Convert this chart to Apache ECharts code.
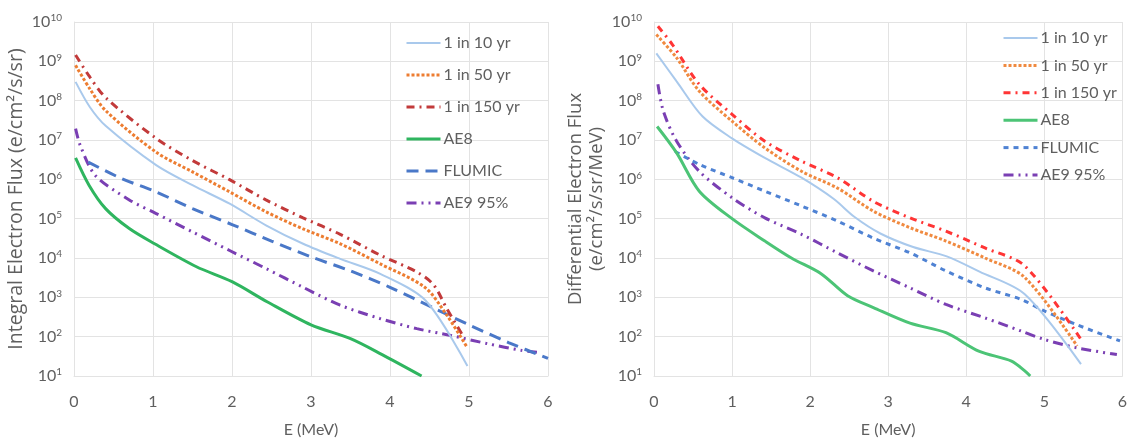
<!DOCTYPE html>
<html>
<head>
<meta charset="utf-8">
<script src="https://cdn.jsdelivr.net/npm/echarts@6/dist/echarts.min.js"></script>
<style>
html,body{margin:0;padding:0;background:#fff;}
#chart{width:1130px;height:444px;}
</style>
</head>
<body>
<div id="chart"></div>
<script>
// ---------- tick labels ----------
const xTicks = [0, 1, 2, 3, 4, 5, 6];
const yExponents = [1, 2, 3, 4, 5, 6, 7, 8, 9, 10];

// ---------- series names ----------
const seriesNames = ['1 in 10 yr', '1 in 50 yr', '1 in 150 yr', 'AE8', 'FLUMIC', 'AE9 95%'];

// ---------- Integral flux (left panel) ----------
const intE10   = [0.02, 0.2, 0.4, 1.04, 1.5, 1.97, 2.43, 2.9, 3.37, 3.87, 4.45, 4.98];
const intF10   = [3.0e8, 6.9e7, 2.3e7, 2.3e6, 7.1e5, 2.4e5, 6.8e4, 2.3e4, 9.5e3, 4.0e3, 830, 18];
const intE50   = [0.02, 0.2, 0.4, 1.04, 1.5, 1.97, 2.43, 2.9, 3.37, 3.87, 4.44, 4.72, 4.98];
const intF50   = [7.9e8, 2.0e8, 5.6e7, 4.9e6, 1.55e6, 4.8e5, 1.5e5, 5.5e4, 2.3e4, 7.2e3, 1.8e3, 350, 52];
const intE150  = [0.02, 0.2, 0.4, 1.04, 1.5, 1.97, 2.43, 2.9, 3.37, 3.87, 4.34, 4.55, 4.72, 4.93];
const intF150  = [1.45e9, 4.0e8, 1.2e8, 1.1e7, 3.0e6, 9.8e5, 3.0e5, 1.05e5, 4.0e4, 1.2e4, 4.4e3, 2.1e3, 510, 100];
const intEAE8  = [0.02, 0.19, 0.4, 0.7, 1.02, 1.55, 2.0, 2.45, 3.0, 3.5, 3.9, 4.4];
const intFAE8  = [3.5e6, 7.1e5, 1.8e5, 5.6e4, 2.3e4, 6.0e3, 2.5e3, 760, 200, 89, 35, 10];
const intEFlu  = [0.18, 0.6, 1.04, 1.5, 2.0, 2.5, 3.0, 3.5, 4.0, 4.6, 5.0, 5.5, 6.0];
const intFFlu  = [2.75e6, 1.05e6, 4.8e5, 1.8e5, 7.1e4, 2.7e4, 1.07e4, 4.7e3, 1.8e3, 480, 200, 71, 28];
const intEAE9  = [0.02, 0.08, 0.27, 0.7, 1.04, 1.5, 1.97, 2.43, 2.9, 3.37, 3.87, 4.34, 4.77, 5.24, 5.66, 5.86];
const intFAE9  = [1.95e7, 7.2e6, 1.26e6, 3.0e5, 1.35e5, 4.6e4, 1.55e4, 5.4e3, 1.8e3, 630, 290, 160, 107, 66, 45, 40];

// ---------- Differential flux (right panel) ----------
const difE10   = [0.03, 0.29, 0.62, 1.0, 1.42, 1.89, 2.3, 2.57, 2.9, 3.32, 3.75, 4.17, 4.75, 5.47];
const difF10   = [1.6e9, 3.1e8, 4.0e7, 1.1e7, 3.5e6, 1.1e6, 3.2e5, 1.1e5, 4.2e4, 1.9e4, 1.1e4, 4.5e3, 1.2e3, 20];
const difE50   = [0.03, 0.29, 0.58, 1.0, 1.42, 1.89, 2.35, 2.81, 3.28, 3.74, 4.24, 4.75, 5.42];
const difF50   = [4.8e9, 1.23e9, 1.74e8, 3.0e7, 6.3e6, 1.6e6, 6.0e5, 1.55e5, 5.9e4, 2.7e4, 1.0e4, 3.2e3, 58];
const difE150  = [0.05, 0.24, 0.58, 1.0, 1.42, 1.89, 2.35, 2.81, 3.28, 3.74, 4.24, 4.75, 5.47];
const difF150  = [7.8e9, 2.6e9, 2.6e8, 4.5e7, 9.3e6, 2.9e6, 1.1e6, 2.75e5, 1.05e5, 4.8e4, 1.8e4, 6.3e3, 85];
const difEAE8  = [0.04, 0.29, 0.58, 1.0, 1.42, 1.76, 2.14, 2.48, 2.81, 3.28, 3.74, 4.16, 4.58, 4.75, 4.82];
const difFAE8  = [2.2e7, 4.7e6, 5.0e5, 1.0e5, 2.7e4, 1.0e4, 4.0e3, 1.1e3, 550, 220, 126, 43, 24, 13.5, 10];
const difEFlu  = [0.27, 0.58, 1.0, 1.42, 1.89, 2.35, 2.81, 3.28, 3.74, 4.24, 4.7, 5.0, 5.42, 5.97];
const difFFlu  = [5.1e6, 2.4e6, 1.1e6, 5.0e5, 2.1e5, 8.7e4, 3.2e4, 1.35e4, 4.7e3, 1.74e3, 890, 450, 200, 78];
const difEAE9  = [0.05, 0.12, 0.29, 0.58, 1.0, 1.42, 1.89, 2.35, 2.81, 3.28, 3.74, 4.24, 4.7, 5.0, 5.42, 5.93];
const difFAE9  = [2.6e8, 5.4e7, 9.3e6, 1.6e6, 3.4e5, 1.05e5, 4.0e4, 1.35e4, 4.7e3, 1.74e3, 660, 300, 140, 85, 52, 35];

const FONT = 'Lato';
const TFONT = 'Open Sans';
const TXT = '#5f5f5f';
const GRIDC = '#e3e3e3';

const stylesL = [
  {color: '#a9c9ec', width: 2, type: 'solid'},
  {color: '#ed7d31', width: 3, type: [3, 2]},
  {color: '#c23a3a', width: 3, type: [8, 5, 2, 5]},
  {color: '#2fb55f', width: 3, type: 'solid'},
  {color: '#4a78c8', width: 3, type: [12, 7]},
  {color: '#7a3fb3', width: 3, type: [10, 5, 2, 5, 2, 5]}
];
const stylesR = [
  {color: '#a9c9ec', width: 2, type: 'solid'},
  {color: '#f08a40', width: 3, type: [3, 2]},
  {color: '#ff3535', width: 3, type: [7, 5, 2, 5]},
  {color: '#4cc476', width: 3, type: 'solid'},
  {color: '#4f82d3', width: 3, type: [5, 5]},
  {color: '#7a3fb3', width: 3, type: [10, 5, 2, 5, 2, 5]}
];

function pairs(xs, ys) { return xs.map((x, i) => [x, ys[i]]); }

const leftData = [
  pairs(intE10, intF10), pairs(intE50, intF50), pairs(intE150, intF150),
  pairs(intEAE8, intFAE8), pairs(intEFlu, intFFlu), pairs(intEAE9, intFAE9)
];
const rightData = [
  pairs(difE10, difF10), pairs(difE50, difF50), pairs(difE150, difF150),
  pairs(difEAE8, difFAE8), pairs(difEFlu, difFFlu), pairs(difEAE9, difFAE9)
];

const series = [];
seriesNames.forEach((n, i) => {
  series.push({
    name: n, type: 'line', xAxisIndex: 0, yAxisIndex: 0, data: leftData[i],
    showSymbol: false, symbol: 'none', smooth: 0.3, lineStyle: stylesL[i], itemStyle: {color: stylesL[i].color},
    z: 10 - i
  });
});
seriesNames.forEach((n, i) => {
  series.push({
    name: n, type: 'line', xAxisIndex: 1, yAxisIndex: 1, data: rightData[i],
    showSymbol: false, symbol: 'none', smooth: 0.3, lineStyle: stylesR[i], itemStyle: {color: stylesR[i].color},
    z: 10 - i
  });
});

function xAxisCfg(gi) {
  return {
    type: 'value', gridIndex: gi, min: 0, max: 6, interval: 1,
    name: 'E (MeV)', nameLocation: 'middle', nameGap: 46,
    nameTextStyle: {fontFamily: FONT, fontSize: 16, color: TXT},
    axisLine: {show: true, lineStyle: {color: GRIDC, width: 1}},
    axisTick: {show: false},
    axisLabel: {margin: 18, fontFamily: FONT, fontSize: 16, color: TXT,
      formatter: v => xTicks.indexOf(v) >= 0 ? String(v) : ''},
    splitLine: {show: true, lineStyle: {color: GRIDC, width: 1}}
  };
}
function yAxisCfg(gi, name, gap, fs) {
  return {
    type: 'log', logBase: 10, gridIndex: gi, min: 10, max: 1e10,
    name: name, nameLocation: 'middle', nameRotate: 90, nameGap: gap,
    nameTextStyle: {fontFamily: TFONT, fontSize: fs, color: TXT, lineHeight: fs + 3, align: 'center'},
    axisLine: {show: true, lineStyle: {color: GRIDC, width: 1}},
    axisTick: {show: false},
    axisLabel: {
      margin: 12,
      formatter: v => {
        const e = Math.round(Math.log10(v));
        return yExponents.indexOf(e) >= 0 ? '{b|10}{s|' + e + '}' : '';
      },
      rich: {
        b: {fontFamily: FONT, fontSize: 16, color: TXT, lineHeight: 18},
        s: {fontFamily: FONT, fontSize: 10, color: TXT, verticalAlign: 'top', lineHeight: 10}
      }
    },
    splitLine: {show: true, lineStyle: {color: GRIDC, width: 1}}
  };
}

function legendCfg(left, top, gap, styles) {
  return {
    orient: 'vertical', left: left, top: top, itemGap: gap,
    itemWidth: 34, itemHeight: 14,
    textStyle: {fontFamily: FONT, fontSize: 16, color: TXT, lineHeight: 16, padding: [0, 0, 0, -2]},
    data: seriesNames.map((n, i) => ({
      name: n,
      lineStyle: {color: styles[i].color, width: styles[i].width, type: styles[i].type},
      itemStyle: {color: 'rgba(0,0,0,0)', opacity: 0, borderWidth: 0}
    }))
  };
}

const chart = echarts.init(document.getElementById('chart'), null, {renderer: 'canvas'});
chart.setOption({
  animation: false,
  backgroundColor: '#ffffff',
  grid: [
    {left: 74, top: 22, width: 474, height: 354},
    {left: 654, top: 22, width: 474, height: 354}
  ],
  xAxis: [xAxisCfg(0), xAxisCfg(1)],
  yAxis: [
    yAxisCfg(0, 'Integral Electron Flux (e/cm\u00b2/s/sr)', 45, 19.5),
    yAxisCfg(1, 'Differential Electron Flux\n(e/cm\u00b2/s/sr/MeV)', 43, 18.5)
  ],
  legend: [
    legendCfg(400, 30, 16, stylesL),
    legendCfg(997, 25, 11.4, stylesR)
  ],
  series: series
});
</script>
</body>
</html>
